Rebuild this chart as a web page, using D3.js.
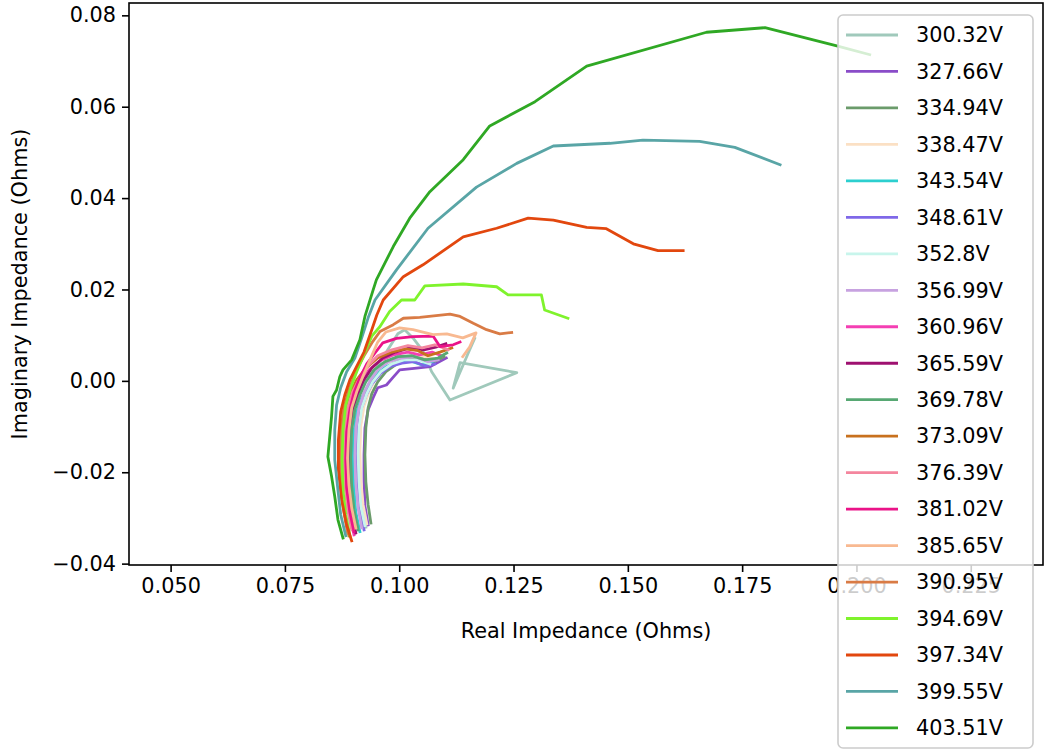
<!DOCTYPE html>
<html>
<head>
<meta charset="utf-8">
<script src="https://cdn.jsdelivr.net/npm/d3@7"></script>
<style>
  body { margin: 0; background: #fff; }
  svg { display: block; font-family: "DejaVu Sans", sans-serif; }
</style>
</head>
<body>
<svg id="chart" width="1045" height="751"></svg>
<script>
// legend labels + line colours, in plot order
const labels = ["300.32V", "327.66V", "334.94V", "338.47V", "343.54V", "348.61V", "352.8V",
  "356.99V", "360.96V", "365.59V", "369.78V", "373.09V", "376.39V", "381.02V", "385.65V",
  "390.95V", "394.69V", "397.34V", "399.55V", "403.51V"];

const colors = ["#a0c9bb", "#8a4cc8", "#6b9b6b", "#fbe0c4", "#2ccfcf", "#7f68e8", "#c8f5ec",
  "#c7a2e0", "#f43fb3", "#9e1070", "#57a873", "#c8711e", "#f4869e", "#ea1388", "#f8b991",
  "#d97b45", "#7ff32c", "#e2470e", "#59a5a6", "#2fa824"];

const xTicks = [0.050, 0.075, 0.100, 0.125, 0.150, 0.175, 0.200, 0.225];
const yTicks = [-0.04, -0.02, 0.00, 0.02, 0.04, 0.06, 0.08];

// [real, imaginary] in ohms
const v300_32 = [[0.0927,-0.0320],[0.0918,-0.0276],[0.0914,-0.0221],[0.0912,-0.0162],[0.0914,-0.0103],
  [0.0921,-0.0059],[0.0929,-0.0024],[0.0940,0.0007],[0.0956,0.0037],[0.0975,0.0068],[0.0997,0.0103],
  [0.1012,0.0112],[0.1030,0.0094],[0.1050,0.0068],[0.1071,0.0020],[0.1111,-0.0042],[0.1257,0.0018],
  [0.1133,0.0040],[0.1118,-0.0016],[0.1151,0.0061],[0.1165,0.0093]];
const v327_66 = [[0.0932,-0.0315],[0.0925,-0.0274],[0.0923,-0.0221],[0.0923,-0.0162],[0.0925,-0.0103],
  [0.0932,-0.0063],[0.0943,-0.0037],[0.0953,-0.0015],[0.0972,-0.0009],[0.0986,0.0007],[0.1001,0.0024],
  [0.1038,0.0028],[0.1067,0.0031],[0.1103,0.0050]];
const v334_94 = [[0.0938,-0.0311],[0.0932,-0.0271],[0.0927,-0.0221],[0.0925,-0.0162],[0.0927,-0.0103],
  [0.0932,-0.0059],[0.0940,-0.0028],[0.0953,-0.0002],[0.0971,0.0020],[0.0995,0.0037],[0.1023,0.0048],
  [0.1050,0.0050],[0.1076,0.0042],[0.1098,0.0053]];
const v338_47 = [[0.0929,-0.0313],[0.0921,-0.0271],[0.0916,-0.0217],[0.0914,-0.0155],[0.0916,-0.0098],
  [0.0923,-0.0055],[0.0934,-0.0024],[0.0947,0.0002],[0.0964,0.0024],[0.0988,0.0042],[0.1017,0.0053],
  [0.1045,0.0055],[0.1072,0.0050]];
const v343_54 = [[0.0914,-0.0330],[0.0905,-0.0287],[0.0901,-0.0234],[0.0898,-0.0173],[0.0901,-0.0112],
  [0.0907,-0.0068],[0.0918,-0.0037],[0.0932,-0.0011],[0.0949,0.0013],[0.0971,0.0031],[0.0997,0.0042],
  [0.1023,0.0044],[0.1050,0.0035],[0.1072,0.0042]];
const v348_61 = [[0.0923,-0.0326],[0.0914,-0.0282],[0.0910,-0.0230],[0.0907,-0.0169],[0.0910,-0.0107],
  [0.0916,-0.0063],[0.0927,-0.0033],[0.0940,-0.0007],[0.0958,0.0015],[0.0979,0.0031],[0.1006,0.0039],
  [0.1032,0.0042],[0.1056,0.0033],[0.1078,0.0037]];
const v352_8 = [[0.0925,-0.0317],[0.0916,-0.0274],[0.0912,-0.0221],[0.0910,-0.0160],[0.0912,-0.0103],
  [0.0918,-0.0059],[0.0929,-0.0028],[0.0942,-0.0002],[0.0960,0.0020],[0.0984,0.0037],[0.1010,0.0046],
  [0.1041,0.0046],[0.1067,0.0037]];
const v356_99 = [[0.0918,-0.0322],[0.0910,-0.0278],[0.0905,-0.0225],[0.0903,-0.0164],[0.0905,-0.0103],
  [0.0912,-0.0059],[0.0923,-0.0026],[0.0936,0.0000],[0.0953,0.0024],[0.0977,0.0042],[0.1006,0.0050],
  [0.1034,0.0053],[0.1063,0.0042],[0.1085,0.0046]];
const v360_96 = [[0.0901,-0.0337],[0.0892,-0.0291],[0.0885,-0.0239],[0.0883,-0.0177],[0.0885,-0.0116],
  [0.0892,-0.0068],[0.0903,-0.0033],[0.0916,-0.0002],[0.0934,0.0024],[0.0958,0.0044],[0.0988,0.0057],
  [0.1019,0.0063],[0.1045,0.0057],[0.1072,0.0063],[0.1093,0.0055]];
const v365_59 = [[0.0905,-0.0333],[0.0896,-0.0287],[0.0892,-0.0234],[0.0890,-0.0173],[0.0892,-0.0112],
  [0.0898,-0.0063],[0.0910,-0.0028],[0.0923,0.0002],[0.0940,0.0028],[0.0964,0.0050],[0.0992,0.0063],
  [0.1023,0.0072],[0.1054,0.0068],[0.1080,0.0074],[0.1102,0.0081]];
const v369_78 = [[0.0910,-0.0326],[0.0901,-0.0282],[0.0896,-0.0230],[0.0894,-0.0169],[0.0896,-0.0107],
  [0.0903,-0.0063],[0.0914,-0.0031],[0.0927,-0.0002],[0.0945,0.0024],[0.0969,0.0042],[0.0997,0.0053],
  [0.1028,0.0055],[0.1056,0.0046],[0.1085,0.0050],[0.1104,0.0061]];
const v373_09 = [[0.0890,-0.0339],[0.0881,-0.0293],[0.0874,-0.0239],[0.0872,-0.0177],[0.0874,-0.0116],
  [0.0881,-0.0063],[0.0892,-0.0028],[0.0907,0.0002],[0.0927,0.0028],[0.0953,0.0050],[0.0984,0.0063],
  [0.1013,0.0070],[0.1041,0.0066],[0.1063,0.0055],[0.1089,0.0063],[0.1115,0.0072]];
const v376_39 = [[0.0896,-0.0326],[0.0887,-0.0282],[0.0881,-0.0228],[0.0879,-0.0169],[0.0881,-0.0107],
  [0.0887,-0.0059],[0.0898,-0.0024],[0.0914,0.0007],[0.0932,0.0033],[0.0953,0.0055],[0.0984,0.0068],
  [0.1019,0.0077],[0.1050,0.0072],[0.1078,0.0079],[0.1107,0.0068]];
const v381_02 = [[0.0901,-0.0330],[0.0892,-0.0287],[0.0885,-0.0234],[0.0883,-0.0173],[0.0885,-0.0112],
  [0.0892,-0.0063],[0.0901,-0.0026],[0.0914,0.0007],[0.0929,0.0037],[0.0947,0.0061],[0.0964,0.0083],
  [0.0994,0.0093],[0.1030,0.0097],[0.1074,0.0098],[0.1089,0.0075],[0.1118,0.0079],[0.1133,0.0085]];
const v385_65 = [[0.0905,-0.0322],[0.0896,-0.0278],[0.0890,-0.0228],[0.0887,-0.0169],[0.0890,-0.0107],
  [0.0896,-0.0059],[0.0907,-0.0024],[0.0921,0.0011],[0.0936,0.0046],[0.0953,0.0085],[0.0971,0.0107],
  [0.1001,0.0116],[0.1030,0.0112],[0.1074,0.0101],[0.1104,0.0103],[0.1139,0.0094],[0.1168,0.0105],
  [0.1154,0.0074],[0.1139,0.0053]];
const v390_95 = [[0.0887,-0.0333],[0.0879,-0.0287],[0.0872,-0.0234],[0.0870,-0.0173],[0.0872,-0.0112],
  [0.0879,-0.0059],[0.0890,-0.0020],[0.0905,0.0020],[0.0923,0.0055],[0.0940,0.0083],[0.0958,0.0108],
  [0.0987,0.0123],[0.1009,0.0137],[0.1045,0.0139],[0.1111,0.0146],[0.1133,0.0141],[0.1162,0.0126],
  [0.1191,0.0112],[0.1220,0.0103],[0.1246,0.0106]];
const v394_69 = [[0.0892,-0.0339],[0.0883,-0.0293],[0.0877,-0.0239],[0.0875,-0.0173],[0.0877,-0.0107],
  [0.0883,-0.0053],[0.0894,-0.0015],[0.0907,0.0020],[0.0925,0.0063],[0.0940,0.0098],[0.0958,0.0119],
  [0.0979,0.0152],[0.1005,0.0177],[0.1034,0.0177],[0.1056,0.0208],[0.1140,0.0212],[0.1213,0.0206],
  [0.1238,0.0188],[0.1311,0.0188],[0.1318,0.0155],[0.1369,0.0137]];
const v397_34 = [[0.0896,-0.0350],[0.0885,-0.0315],[0.0874,-0.0260],[0.0867,-0.0195],[0.0867,-0.0129],
  [0.0872,-0.0068],[0.0881,-0.0031],[0.0892,0.0002],[0.0905,0.0028],[0.0923,0.0063],[0.0940,0.0112],
  [0.0951,0.0144],[0.0965,0.0177],[0.1009,0.0228],[0.1052,0.0254],[0.1140,0.0315],[0.1213,0.0334],
  [0.1282,0.0356],[0.1337,0.0352],[0.1410,0.0336],[0.1453,0.0333],[0.1512,0.0300],[0.1566,0.0285],
  [0.1621,0.0285]];
const v399_55 = [[0.0883,-0.0339],[0.0872,-0.0293],[0.0866,-0.0239],[0.0859,-0.0173],[0.0859,-0.0107],
  [0.0863,-0.0053],[0.0872,-0.0015],[0.0885,0.0020],[0.0903,0.0050],[0.0918,0.0094],[0.0932,0.0138],
  [0.0947,0.0177],[0.0994,0.0243],[0.1063,0.0334],[0.1169,0.0424],[0.1257,0.0476],[0.1337,0.0514],
  [0.1461,0.0520],[0.1533,0.0527],[0.1657,0.0524],[0.1734,0.0511],[0.1833,0.0473]];
const v403_51 = [[0.0877,-0.0344],[0.0866,-0.0304],[0.0859,-0.0253],[0.0852,-0.0209],[0.0844,-0.0166],
  [0.0848,-0.0122],[0.0852,-0.0078],[0.0855,-0.0034],[0.0863,-0.0020],[0.0870,0.0009],[0.0877,0.0024],
  [0.0896,0.0046],[0.0914,0.0090],[0.0925,0.0141],[0.0943,0.0199],[0.0950,0.0221],[0.0987,0.0294],
  [0.1023,0.0356],[0.1067,0.0414],[0.1140,0.0484],[0.1198,0.0558],[0.1297,0.0611],[0.1410,0.0689],
  [0.1672,0.0763],[0.1800,0.0773],[0.1957,0.0733],[0.2029,0.0714]];

const seriesData = [v300_32, v327_66, v334_94, v338_47, v343_54, v348_61, v352_8, v356_99, v360_96,
  v365_59, v369_78, v373_09, v376_39, v381_02, v385_65, v390_95, v394_69, v397_34, v399_55, v403_51];

var margin = {top: 3, right: 2, bottom: 186, left: 129},
    width = 1045 - margin.left - margin.right,
    height = 751 - margin.top - margin.bottom,
    fontPx = 20.8;

const svg = d3.select("#chart");

const x = d3.scaleLinear().domain([0.0409, 0.2408]).range([0, width]);
const y = d3.scaleLinear().domain([-0.0403, 0.0827]).range([height, 0]);

const g = svg.append("g")
  .attr("transform", `translate(${margin.left}, ${margin.top})`);

g.append("clipPath").attr("id", "clip")
  .append("rect").attr("width", width).attr("height", height);

const line = d3.line()
  .x(d => x(d[0]))
  .y(d => y(d[1]));

g.append("g")
  .attr("clip-path", "url(#clip)")
  .selectAll("path")
  .data(seriesData)
  .enter().append("path")
  .attr("d", line)
  .attr("fill", "none")
  .attr("stroke", (d, i) => colors[i])
  .attr("stroke-width", 2.8)
  .attr("stroke-linejoin", "round")
  .attr("stroke-linecap", "square");

// axes
const xAxis = g.append("g")
  .attr("transform", `translate(0, ${height})`)
  .call(d3.axisBottom(x).tickValues(xTicks).tickFormat(d3.format(".3f")).tickSize(7).tickPadding(6));

const yAxis = g.append("g")
  .call(d3.axisLeft(y).tickValues(yTicks).tickFormat(d => d3.format(".2f")(d).replace("-", "\u2212")).tickSize(7).tickPadding(6));

[xAxis, yAxis].forEach(ax => {
  ax.select(".domain").remove();
  ax.selectAll("line").attr("stroke", "#000").attr("stroke-width", 1.6);
  ax.selectAll("text").attr("font-size", fontPx).attr("fill", "#000")
    .attr("font-family", "DejaVu Sans, sans-serif");
});

g.append("rect")
  .attr("width", width).attr("height", height)
  .attr("fill", "none").attr("stroke", "#000").attr("stroke-width", 1.6);

svg.append("text")
  .attr("x", margin.left + width / 2)
  .attr("y", 638)
  .attr("text-anchor", "middle")
  .attr("font-size", fontPx)
  .text("Real Impedance (Ohms)");

svg.append("text")
  .attr("transform", `translate(20, ${margin.top + height / 2}) rotate(-90)`)
  .attr("text-anchor", "middle")
  .attr("dy", "0.35em")
  .attr("font-size", fontPx)
  .text("Imaginary Impedance (Ohms)");

// legend, drawn last so it sits over the ticks like the original
const legX = 838, legY = 15, rowH = 36.47;
const legend = svg.append("g");
legend.append("rect")
  .attr("x", legX).attr("y", legY)
  .attr("width", 195).attr("height", 733)
  .attr("rx", 5)
  .attr("fill", "#fff").attr("fill-opacity", 0.8)
  .attr("stroke", "#cccccc").attr("stroke-width", 1.6);

const rows = legend.selectAll("g.row")
  .data(labels)
  .enter().append("g")
  .attr("class", "row")
  .attr("transform", (d, i) => `translate(0, ${35 + i * rowH})`);

rows.append("line")
  .attr("x1", 846).attr("x2", 898)
  .attr("stroke", (d, i) => colors[i])
  .attr("stroke-width", 2.8);

rows.append("text")
  .attr("x", 916)
  .attr("dy", "0.35em")
  .attr("font-size", fontPx)
  .attr("fill", "#000")
  .text(d => d);
</script>
</body>
</html>
